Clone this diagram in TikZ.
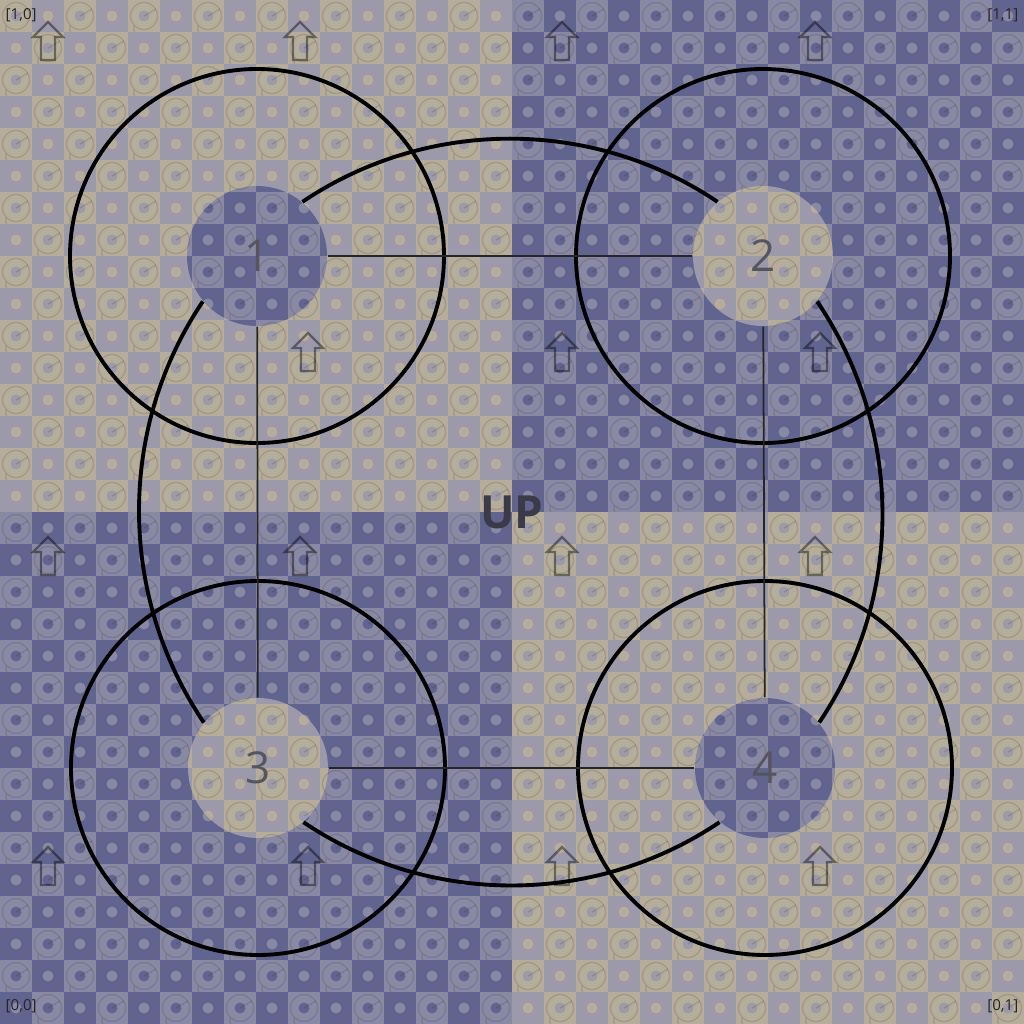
\documentclass[tikz,border=0pt]{standalone}
\usepackage{fontspec}
\setmainfont{Open Sans}
\definecolor{beigelight}{HTML}{B5AD9A}
\definecolor{beigedark}{HTML}{9C99AB}
\definecolor{bluelight}{HTML}{8A89A4}
\definecolor{bluedark}{HTML}{61648F}
\definecolor{numgrey}{HTML}{55555F}
\definecolor{upgrey}{HTML}{3A3A48}

% checker tiles: columns #1..#2, rows #3..#4, light colour #5, dark colour #6
\newcommand{\tiles}[6]{%
  \foreach \i in {#1,...,#2} {
    \foreach \j in {#3,...,#4} {
      \pgfmathtruncatemacro{\cellodd}{mod(\i+\j,2)}
      \ifnum\cellodd=0
        \fill[#5] (32*\i,32*\j) rectangle ++(32,32);
        \fill[#6] (32*\i+16,32*\j+16) circle (5.5);
        \draw[ring] (32*\i+16,32*\j+16) circle (13.5);
        \draw[ring] (32*\i+16,32*\j+16) -- ++(12,-7);
        \draw[ring] (32*\i+6,32*\j+26) .. controls (32*\i+4,32*\j+44) and (32*\i+26,32*\j+42) .. (32*\i+38,32*\j+38);
      \else
        \fill[#6] (32*\i,32*\j) rectangle ++(32,32);
        \fill[#5] (32*\i+16,32*\j+16) circle (5.5);
      \fi
    }
  }}

\begin{document}
\begin{tikzpicture}[x=0.01cm, y=-0.01cm,
    ring/.style={draw=black, opacity=0.12, line width=0.35pt},
    uparrow/.style={draw=black, opacity=0.42, line width=0.7pt, line join=miter},
    hub/.style={circle, minimum size=1.4cm, inner sep=0pt, text=numgrey,
                font=\fontsize{12.5}{12.5}\selectfont},
    bigring/.style={draw=black, line width=1.1pt},
    link/.style={draw=black!85, line width=0.5pt},
    loopedge/.style={bigring, looseness=0.93},
    corner/.style={font=\fontsize{4.3}{5}\selectfont, text=black!85, inner sep=0pt}]
    \useasboundingbox (0,0) rectangle (1024,1024);

    % Hub centres
    \coordinate (c1) at (257,256);
    \coordinate (c2) at (763,256);
    \coordinate (c3) at (258,768);
    \coordinate (c4) at (765,768);

    % Quadrant textures
    \tiles{0}{15}{0}{15}{beigelight}{beigedark}
    \tiles{16}{31}{0}{15}{bluelight}{bluedark}
    \tiles{0}{15}{16}{31}{bluelight}{bluedark}
    \tiles{16}{31}{16}{31}{beigelight}{beigedark}

    % Up arrows
    \foreach \ax/\ay in {48/41, 300/41, 562/41, 815/41,
                         308/352, 562/352, 820/352,
                         48/556, 300/556, 562/556, 815/556,
                         48/866, 308/866, 562/866, 820/866}
        \draw[uparrow] (\ax,\ay) ++(0,-19) -- ++(15,15) -- ++(-8,0) -- ++(0,23)
            -- ++(-14,0) -- ++(0,-23) -- ++(-8,0) -- cycle;

    % Hub discs (swapped texture)
    \begin{scope}
        \clip (c1) circle (70);
        \tiles{5}{10}{5}{10}{bluelight}{bluedark}
    \end{scope}
    \begin{scope}
        \clip (c2) circle (70);
        \tiles{21}{26}{5}{10}{beigelight}{beigedark}
    \end{scope}
    \begin{scope}
        \clip (c3) circle (70);
        \tiles{5}{10}{21}{26}{beigelight}{beigedark}
    \end{scope}
    \begin{scope}
        \clip (c4) circle (70);
        \tiles{21}{26}{21}{26}{bluelight}{bluedark}
    \end{scope}

    % Rings round the hubs
    \foreach \c in {c1,c2,c3,c4}
        \draw[bigring] (\c) circle (187);

    % Hubs
    \node[hub] (n1) at (c1) {1};
    \node[hub] (n2) at (c2) {2};
    \node[hub] (n3) at (c3) {3};
    \node[hub] (n4) at (c4) {4};

    % Straight links
    \draw[link] (n1) -- (n2);
    \draw[link] (n1) -- (n3);
    \draw[link] (n2) -- (n4);
    \draw[link] (n3) -- (n4);

    % Outer loop
    \draw[loopedge] (n1.50) to[out=34, in=146] (n2.130);
    \draw[loopedge] (n2.-40) to[out=-56, in=56] (n4.40);
    \draw[loopedge] (n4.-130) to[out=-146, in=-34] (n3.-50);
    \draw[loopedge] (n3.140) to[out=124, in=-124] (n1.-140);

    % Labels
    \node[font=\bfseries\fontsize{13}{13}\selectfont, text=upgrey] (up) at (512,512) {UP};
    \node[corner, anchor=north west] (k10) at (5,8) {[1,0]};
    \node[corner, anchor=north east] (k11) at (1019,8) {[1,1]};
    \node[corner, anchor=south west] (k00) at (5,1014) {[0,0]};
    \node[corner, anchor=south east] (k01) at (1019,1014) {[0,1]};
\end{tikzpicture}
\end{document}
